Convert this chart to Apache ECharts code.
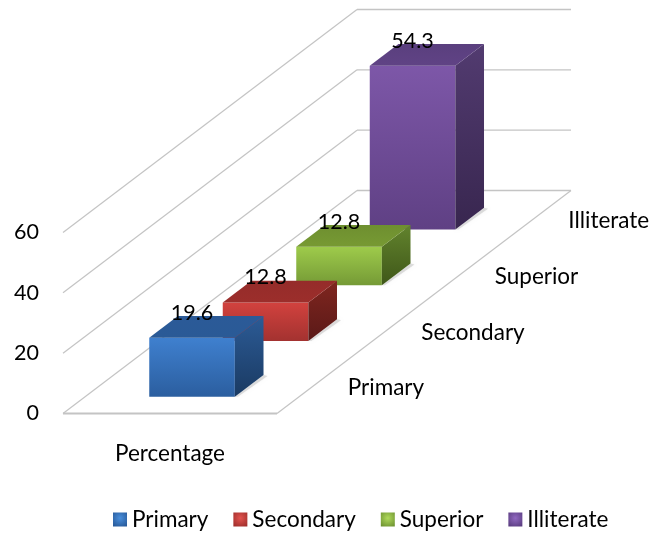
<!DOCTYPE html>
<html>
<head>
<meta charset="utf-8">
<style>html,body{margin:0;padding:0;background:#fff}#c{width:654px;height:534px}</style>
<script src="https://cdn.jsdelivr.net/npm/echarts@6/dist/echarts.min.js"></script>
</head>
<body>
<div id="c"></div>
<script>
const groupLabels = ['Percentage'];
const categories = ['Primary', 'Secondary', 'Superior', 'Illiterate'];
const values = [19.6, 12.8, 12.8, 54.3];
const yTicks = [0, 20, 40, 60];
const faceColors = [
  { front: ['#3f80cf', '#2b5e9f'], side: ['#2c5b96', '#1a3a62'], top: ['#2b5a98', '#2a5a96'], icon: ['#4a8fdc', '#285a9a'] },
  { front: ['#d2423e', '#a33230'], side: ['#80261f', '#5a1918'], top: ['#952c2a', '#9c2e2b'], icon: ['#e2534f', '#a02f2c'] },
  { front: ['#9ecb4b', '#759a36'], side: ['#62832d', '#3f5719'], top: ['#6e8f30', '#779a33'], icon: ['#b0da5c', '#6f9432'] },
  { front: ['#7d57a8', '#5f4084'], side: ['#523b70', '#38264f'], top: ['#5a3f7e', '#604385'], icon: ['#9068c0', '#5a3d80'] }
];

const FONT = 'Lato';
const FS = 22.5;
const FS_NUM = 21.5;
const DEPTH_X = 73.5, DEPTH_Y = -55.75;   // oblique projection of one depth cell
const BAR_W = 0.4, BAR_D = 0.39, BAR_OFF = 0.3;

const grad = c => new echarts.graphic.LinearGradient(0, 0, 0, 1, [
  { offset: 0, color: c[0] }, { offset: 1, color: c[1] }
]);

function frameItem(params, api) {
  const tick = api.value(1);
  const p = api.coord([0, tick]);
  const w = api.size([1, 0])[0];
  const x0 = p[0] - w / 2, y0 = p[1];
  const n = categories.length;
  const bx = x0 + n * DEPTH_X, by = y0 + n * DEPTH_Y;
  const ln = (a, b, c, d, lw) => ({
    type: 'line', shape: { x1: a, y1: b, x2: c, y2: d },
    style: { stroke: '#c4c4c4', lineWidth: lw }
  });
  const children = [ln(x0, y0, bx, by, 1.2), ln(bx, by, bx + w, by, 1.4)];
  if (tick === 0) {
    children.push(ln(x0, y0, x0 + w, y0, 1.8));
    children.push(ln(x0 + w, y0, bx + w, by, 1.2));
  }
  return { type: 'group', children };
}

function barItem(i) {
  return function (params, api) {
    const base = api.coord([0, 0]);
    const topP = api.coord([0, api.value(1)]);
    const w = api.size([1, 0])[0];
    const h = base[1] - topP[1];
    const bw = w * BAR_W;
    const fx = base[0] - bw / 2 + (i + BAR_OFF) * DEPTH_X;
    const fy = base[1] + (i + BAR_OFF) * DEPTH_Y;
    const dx = BAR_D * DEPTH_X, dy = BAR_D * DEPTH_Y;
    const c = faceColors[i];
    const poly = (pts, fill) => ({ type: 'polygon', shape: { points: pts }, style: { fill } });
    const children = [
      {
        type: 'polygon',
        shape: { points: [[fx + bw, fy], [fx + bw + 3, fy], [fx + bw + dx + 4, fy + dy + 1], [fx + bw + dx, fy + dy]] },
        style: { fill: 'rgba(120,120,120,0.22)', shadowBlur: 3, shadowColor: 'rgba(0,0,0,0.2)' }
      },
      poly([[fx, fy], [fx + bw, fy], [fx + bw, fy - h], [fx, fy - h]], grad(c.front)),
      poly([[fx + bw, fy], [fx + bw + dx, fy + dy], [fx + bw + dx, fy + dy - h], [fx + bw, fy - h]], grad(c.side)),
      poly([[fx, fy - h], [fx + bw, fy - h], [fx + bw + dx, fy + dy - h], [fx + dx, fy + dy - h]], grad(c.top)),
      {
        type: 'text', z2: 50,
        style: {
          text: String(api.value(1)), x: fx + bw / 2, y: fy - h - 25,
          fill: '#000', fontFamily: FONT, fontSize: FS_NUM,
          textAlign: 'center', textVerticalAlign: 'middle'
        }
      },
      {
        type: 'text', z2: 50,
        style: {
          text: categories[i],
          x: base[0] + w / 2 + (i + 0.5) * DEPTH_X + 34,
          y: base[1] + (i + 0.5) * DEPTH_Y + 2.5,
          fill: '#000', fontFamily: FONT, fontSize: FS,
          textAlign: 'left', textVerticalAlign: 'middle'
        }
      }
    ];
    return { type: 'group', children };
  };
}

const series = [{
  type: 'custom', silent: true, z: 1,
  data: yTicks.map(t => [0, t]),
  encode: { x: 0, y: 1 },
  renderItem: frameItem
}];
categories.forEach((name, i) => {
  series.push({
    type: 'custom', name, z: 10 - i,
    itemStyle: { color: faceColors[i].front[0] },
    data: [[0, values[i]]],
    encode: { x: 0, y: 1 },
    renderItem: barItem(i)
  });
});

const chart = echarts.init(document.getElementById('c'), null, { renderer: 'canvas' });
chart.setOption({
  animation: false,
  backgroundColor: '#fff',
  grid: { left: 63, right: 377, top: 232.5, bottom: 120.5 },
  xAxis: {
    type: 'category', data: groupLabels,
    axisLine: { show: false }, axisTick: { show: false },
    axisLabel: { color: '#000', fontFamily: FONT, fontSize: FS, margin: 29 }
  },
  yAxis: {
    type: 'value', min: 0, max: 60, interval: 20,
    axisLine: { show: false }, axisTick: { show: false }, splitLine: { show: false },
    axisLabel: { color: '#000', fontFamily: FONT, fontSize: FS_NUM, margin: 24, padding: [2, 0, 0, 0] }
  },
  legend: {
    left: 113, top: 508, padding: 0, itemWidth: 14, itemHeight: 14, itemGap: 25,
    icon: 'rect',
    textStyle: { color: '#000', fontFamily: FONT, fontSize: FS },
    data: categories.map((name, i) => ({
      name,
      itemStyle: {
        color: new echarts.graphic.RadialGradient(0.5, 0.4, 0.7, [
          { offset: 0, color: faceColors[i].icon[0] },
          { offset: 1, color: faceColors[i].icon[1] }
        ])
      }
    }))
  },
  series
});
</script>
</body>
</html>
